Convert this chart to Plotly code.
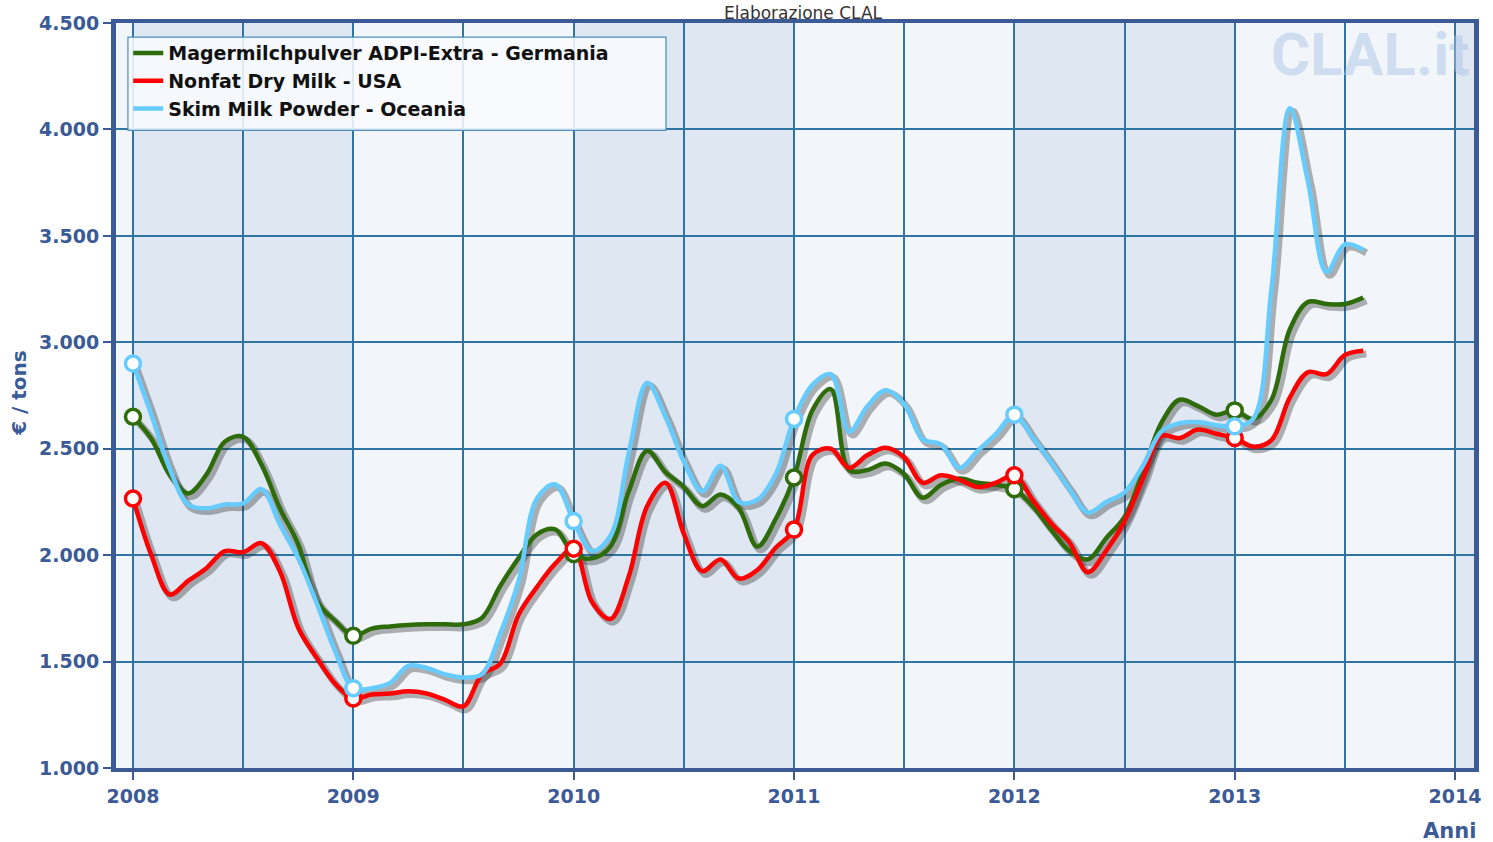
import plotly.graph_objects as go

# monthly prices, Jan 2008 .. Aug 2013 (EUR / ton)
germania = [
    2650, 2547, 2378, 2290, 2378, 2533, 2556, 2425, 2220, 2051, 1785, 1692,
    1621, 1655, 1665, 1672, 1675, 1675, 1675, 1705, 1855, 1986, 2098, 2121,
    2005, 1985, 2040, 2300, 2490, 2390, 2320, 2230, 2285, 2220, 2040, 2170,
    2365, 2680, 2780, 2400, 2400, 2430, 2380, 2270, 2330, 2360, 2340, 2330,
    2310, 2230, 2120, 2020, 1980, 2080, 2180, 2390, 2620, 2730, 2700, 2660,
    2680, 2640, 2730, 3060, 3190, 3180, 3180, 3210,
]
usa = [
    2266, 2000, 1815, 1879, 1939, 2019, 2014, 2056, 1925, 1659, 1519, 1397,
    1327, 1345, 1350, 1360, 1350, 1320, 1290, 1440, 1490, 1720, 1850, 1960,
    2030, 1780, 1700, 1900, 2230, 2340, 2100, 1925, 1980, 1890, 1930, 2035,
    2120, 2470, 2500, 2410, 2470, 2505, 2460, 2340, 2375, 2355, 2320, 2340,
    2375, 2260, 2150, 2060, 1920, 2020, 2160, 2360, 2560, 2550, 2590, 2570,
    2550, 2510, 2540, 2740, 2860, 2850, 2940, 2960,
]
oceania = [
    2900, 2660, 2407, 2238, 2220, 2238, 2243, 2310, 2145, 1986, 1776, 1551,
    1375, 1375, 1400, 1480, 1470, 1440, 1425, 1440, 1631, 1879, 2266, 2332,
    2160, 2020, 2090, 2480, 2810, 2650, 2440, 2300, 2420, 2250, 2260, 2380,
    2640, 2800, 2850, 2580, 2700, 2775, 2710, 2545, 2520, 2410, 2490, 2570,
    2660, 2553, 2436, 2310, 2200, 2250, 2295, 2420, 2580, 2620, 2625, 2610,
    2605, 2640, 3250, 4100, 3750, 3330, 3460, 3435,
]
months = [2008 + i / 12 for i in range(len(germania))]
years = [2008, 2009, 2010, 2011, 2012, 2013, 2014]

series = [
    ("Magermilchpulver ADPI-Extra - Germania", germania, "#2e6b0a"),
    ("Nonfat Dry Milk - USA", usa, "#ff0000"),
    ("Skim Milk Powder - Oceania", oceania, "#66ccff"),
]

axis_blue = "#3b5a96"
grid_blue = "#2f74a3"

fig = go.Figure()

# drop shadows
for name, vals, color in series:
    fig.add_trace(go.Scatter(
        x=[m + 0.014 for m in months], y=[v - 15 for v in vals],
        mode="lines", line=dict(color="rgba(40,40,40,0.35)", width=7, shape="spline", smoothing=1),
        showlegend=False, hoverinfo="skip",
    ))

for name, vals, color in series:
    fig.add_trace(go.Scatter(
        x=months, y=vals, name=name, mode="lines",
        line=dict(color=color, width=4.5, shape="spline", smoothing=1),
    ))

# year-start markers
for name, vals, color in series:
    idx = list(range(0, len(vals), 12))
    fig.add_trace(go.Scatter(
        x=[months[i] for i in idx], y=[vals[i] for i in idx], mode="markers",
        marker=dict(size=15, color="white", line=dict(color=color, width=3.5)),
        showlegend=False, hoverinfo="skip",
    ))

# alternating yearly bands
for i, yr in enumerate(years):
    if i % 2 == 0:
        fig.add_shape(type="rect", xref="x", yref="paper", x0=yr, x1=yr + 1, y0=0, y1=1,
                      fillcolor="#dfe7f2", line_width=0, layer="below")

# legend frame (wider than plotly's own box)
fig.add_shape(type="rect", xref="paper", yref="paper", x0=0.0088, x1=0.405, y0=0.856, y1=0.981,
              fillcolor="rgba(248,250,253,0.88)", line=dict(color="#4a8fc0", width=1.2), layer="above")

fig.add_annotation(text="Elaborazione CLAL", xref="paper", yref="paper", x=0.506, y=1.0,
                   xanchor="center", yanchor="bottom", yshift=-2, showarrow=False,
                   font=dict(family="DejaVu Sans", size=17, color="#333333"))
fig.add_annotation(text="<b>CLAL.it</b>", xref="paper", yref="paper", x=0.849, y=0.958,
                   xanchor="left", yanchor="middle", showarrow=False,
                   font=dict(family="Roboto", size=60, color="rgba(170,195,230,0.5)"))
fig.add_annotation(text="<b>€ / tons</b>", xref="paper", yref="paper", x=-0.071, y=0.503,
                   xanchor="center", yanchor="middle", textangle=-90, showarrow=False,
                   font=dict(family="DejaVu Sans", size=20, color=axis_blue))
fig.add_annotation(text="<b>Anni</b>", xref="paper", yref="paper", x=0.982, y=-0.084,
                   xanchor="center", yanchor="middle", showarrow=False,
                   font=dict(family="DejaVu Sans", size=21, color=axis_blue))

fig.update_layout(
    width=1493, height=842,
    margin=dict(l=116, r=16, t=17, b=74),
    paper_bgcolor="white", plot_bgcolor="#f2f6fb",
    separators=",.",
    legend=dict(x=0.009, y=0.985, xanchor="left", yanchor="top",
                bgcolor="rgba(0,0,0,0)", borderwidth=0,
                font=dict(family="DejaVu Sans", size=19, color="#111111", weight="bold"),
                itemwidth=30),
    showlegend=True,
)
fig.update_xaxes(
    range=[2007.923, 2014.086], tickvals=years, ticktext=[str(y) for y in years],
    showgrid=True, gridcolor=grid_blue, gridwidth=1.6,
    minor=dict(dtick=0.5, tick0=2008, showgrid=True, gridcolor=grid_blue, gridwidth=1.6),
    ticks="outside", ticklen=8, tickcolor=axis_blue, tickwidth=1.5,
    tickfont=dict(family="DejaVu Sans", size=19, color=axis_blue, weight="bold"),
    showline=True, linecolor=axis_blue, linewidth=4, mirror=True, zeroline=False,
)
fig.update_yaxes(
    range=[1000, 4500], dtick=500, tickformat=",.0f",
    showgrid=True, gridcolor=grid_blue, gridwidth=1.6,
    ticks="outside", ticklen=8, tickcolor=axis_blue, tickwidth=1.5,
    tickfont=dict(family="DejaVu Sans", size=19, color=axis_blue, weight="bold"),
    showline=True, linecolor=axis_blue, linewidth=5, mirror=True, zeroline=False,
)

fig.write_html("out.html", config={"displayModeBar": False},
               post_script="document.body.style.margin='0';")
